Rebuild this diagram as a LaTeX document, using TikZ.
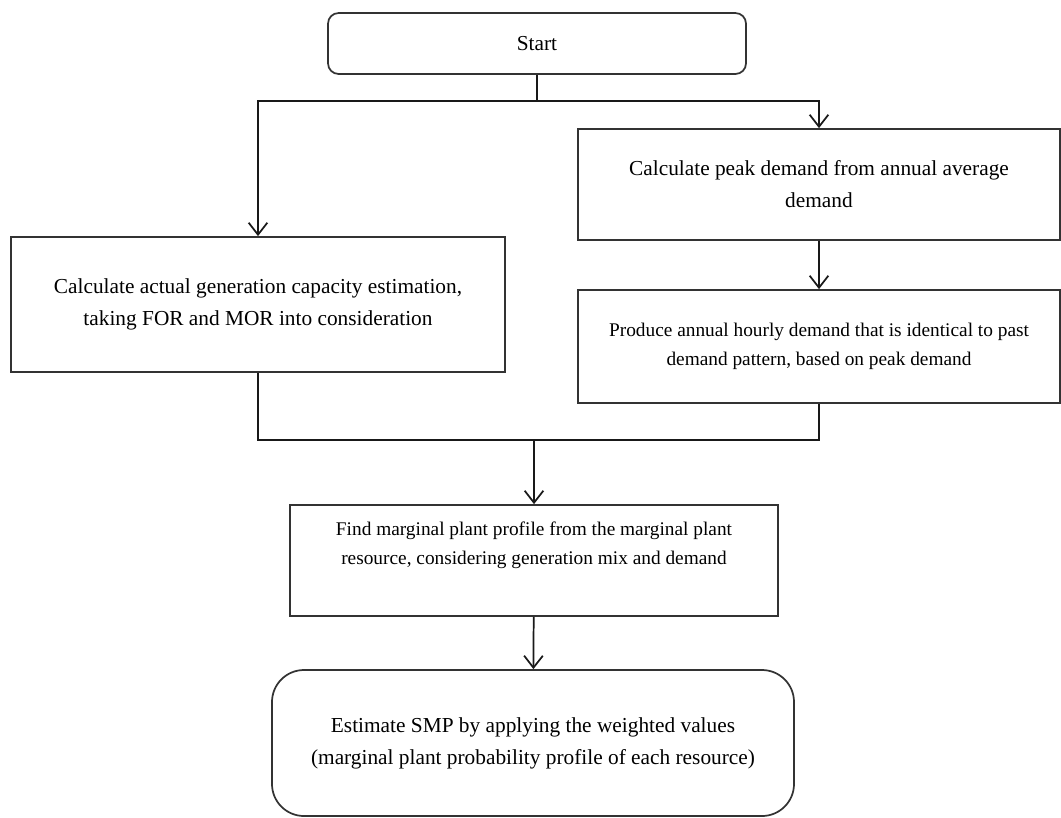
\documentclass[tikz,border=0pt]{standalone}
\usepackage{fontspec}
\setmainfont{Liberation Serif}
\usepackage{tikz}
\usetikzlibrary{arrows.meta,positioning,calc}
\tikzset{
  box/.style={draw=black!80, line width=1.3pt, align=center, inner sep=0pt,
    font=\fontsize{16}{24}\selectfont},
  smallbox/.style={box, font=\fontsize{14.5}{22}\selectfont},
  flow/.style={draw=black!90, line width=1.3pt},
}
\begin{document}
\begin{tikzpicture}[x=0.75pt,y=-0.75pt,>={Straight Barb[length=9pt,width=14pt]}]
\useasboundingbox (0,0) rectangle (1061,818);
\node[box, rounded corners=8pt, minimum width=418*0.75pt, minimum height=61*0.75pt] (start) at (537,43.5) {Start};
\node[box, minimum width=494*0.75pt, minimum height=135*0.75pt] (cap) at (258,304.5) {Calculate actual generation capacity estimation,\\taking FOR and MOR into consideration};
\node[box, minimum width=482*0.75pt, minimum height=111*0.75pt] (peak) at (819,184.5) {Calculate peak demand from annual average\\demand};
\node[smallbox, minimum width=482*0.75pt, minimum height=113*0.75pt] (hourly) at (819,346.5) {Produce annual hourly demand that is identical to past\\demand pattern, based on peak demand};
\node[smallbox, minimum width=488*0.75pt, minimum height=111*0.75pt] (mp) at (534,560.5) {Find marginal plant profile from the marginal plant\\resource, considering generation mix and demand\\[4pt]};
\node[box, rounded corners=24pt, minimum width=522*0.75pt, minimum height=146*0.75pt] (smp) at (533,743) {Estimate SMP by applying the weighted values\\(marginal plant probability profile of each resource)};
\coordinate (split) at (537,101);
\coordinate (merge) at (534,440);
\draw[flow] (start) -- (split);
\draw[flow,->] (split) -| (cap.north);
\draw[flow,->] (split) -| (peak.north);
\draw[flow,->] (peak) -- (hourly);
\draw[flow] (cap.south) |- (merge);
\draw[flow] (hourly.south) |- (merge);
\draw[flow,->] (merge) -- (mp);
\draw[flow,->] (mp) -- (smp);
\end{tikzpicture}
\end{document}
